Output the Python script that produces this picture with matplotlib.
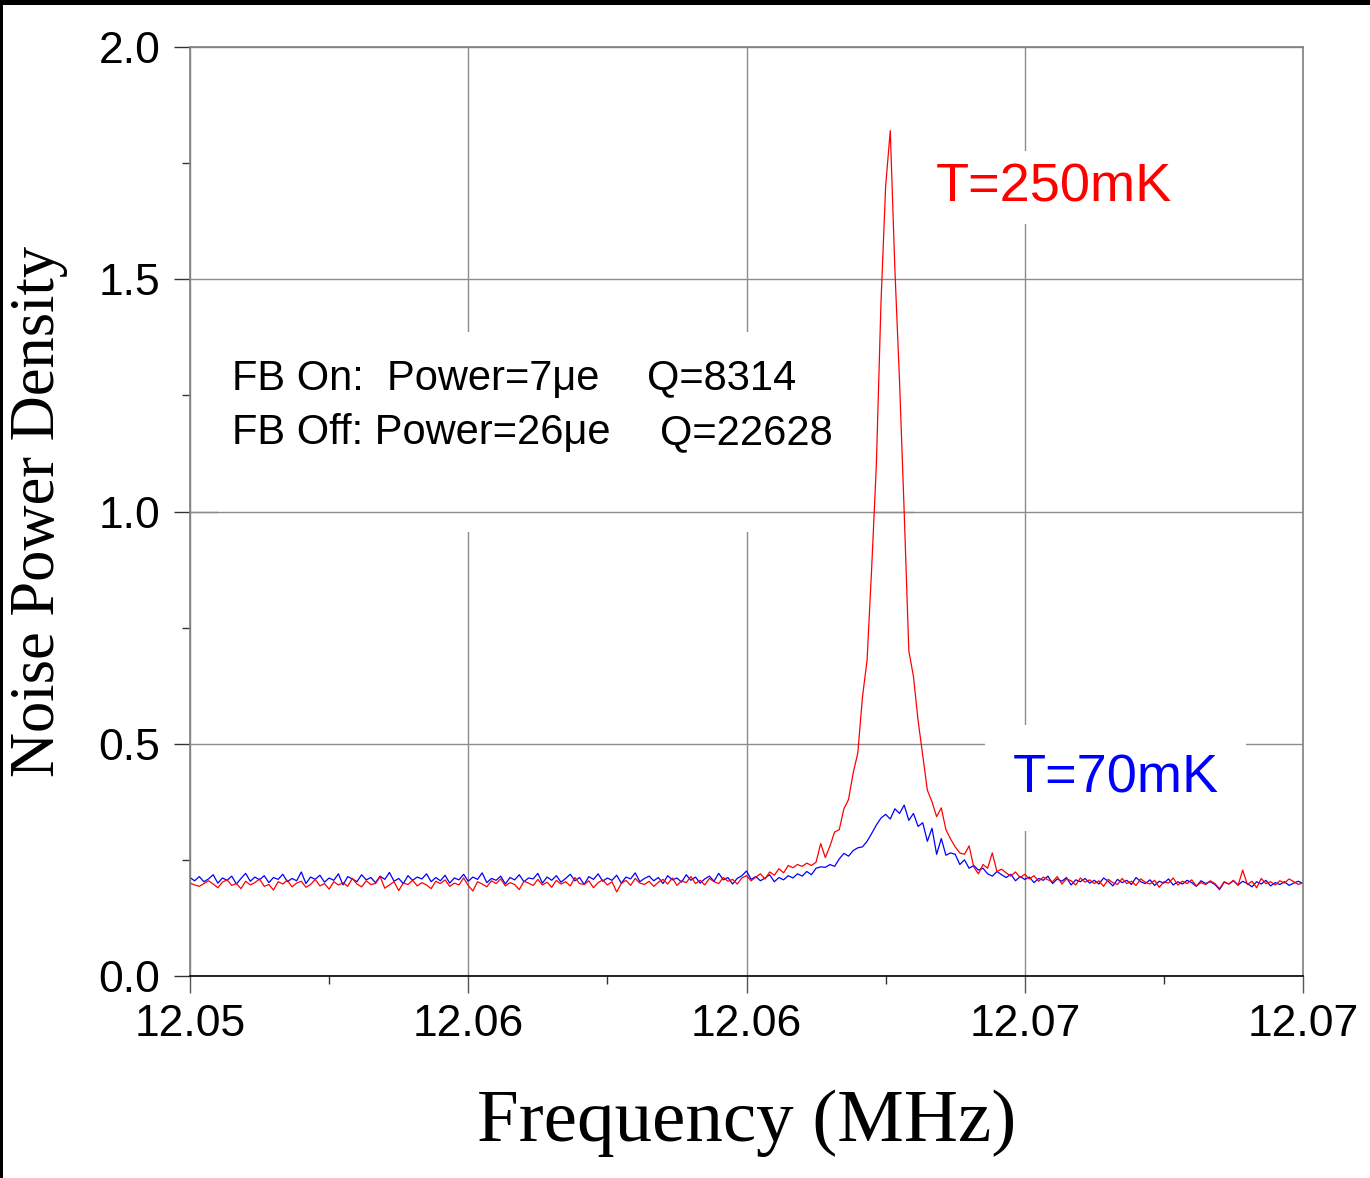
import numpy as np
import matplotlib.pyplot as plt
from matplotlib.patches import Rectangle

# frequency axis (MHz) and tick labels as printed on the chart
f_start = 12.054
f_stop = 12.070
xticks = [12.054, 12.058, 12.062, 12.066, 12.070]
xtick_labels = ['12.05', '12.06', '12.06', '12.07', '12.07']
yticks = [0.0, 0.5, 1.0, 1.5, 2.0]
ytick_labels = ['0.0', '0.5', '1.0', '1.5', '2.0']

# T=250mK trace (red)
red_250mK = [
    0.200, 0.196, 0.193, 0.199, 0.205, 0.198, 0.190, 0.202, 0.207, 0.195,
    0.199, 0.188, 0.204, 0.196, 0.201, 0.209, 0.193, 0.197, 0.185, 0.203,
    0.198, 0.206, 0.192, 0.200, 0.204, 0.191, 0.197, 0.208, 0.194, 0.199,
    0.187, 0.203, 0.196, 0.201, 0.193, 0.210, 0.198, 0.192, 0.205, 0.197,
    0.199, 0.214, 0.189, 0.196, 0.203, 0.184, 0.200, 0.197, 0.206, 0.194,
    0.201, 0.196, 0.188, 0.204, 0.199, 0.207, 0.193, 0.200, 0.196, 0.211,
    0.195, 0.183, 0.203, 0.198, 0.192, 0.205, 0.199, 0.209, 0.194, 0.201,
    0.197, 0.186, 0.204, 0.200, 0.195, 0.208, 0.196, 0.202, 0.191, 0.206,
    0.198, 0.203, 0.194, 0.212, 0.199, 0.197, 0.205, 0.190, 0.201, 0.207,
    0.196, 0.203, 0.181, 0.199, 0.206, 0.195, 0.210, 0.200, 0.197, 0.204,
    0.193, 0.202, 0.208, 0.198, 0.211, 0.195, 0.205, 0.201, 0.214, 0.199,
    0.206, 0.196, 0.210, 0.203, 0.199, 0.212, 0.204, 0.208, 0.198, 0.211,
    0.216, 0.205, 0.213, 0.220, 0.209, 0.224, 0.217, 0.231, 0.222, 0.238,
    0.233, 0.240, 0.236, 0.243, 0.238,
    0.245, 0.285, 0.255, 0.280, 0.310, 0.315, 0.360, 0.380, 0.437, 0.480,
    0.600, 0.680, 0.880, 1.100, 1.450, 1.700, 1.820, 1.520, 1.280, 1.000,
    0.700, 0.645, 0.550, 0.475, 0.400, 0.375, 0.343, 0.362, 0.315, 0.295,
    0.278, 0.265, 0.262, 0.280, 0.235, 0.220, 0.240, 0.232, 0.265, 0.225,
    0.230,
    0.222, 0.215, 0.224, 0.212, 0.219, 0.209, 0.216, 0.204, 0.213, 0.207,
    0.203, 0.214, 0.198, 0.209, 0.205, 0.196, 0.211, 0.202, 0.207, 0.199,
    0.205, 0.193, 0.208, 0.201, 0.197, 0.210, 0.199, 0.204, 0.195, 0.209,
    0.202, 0.198, 0.206, 0.191, 0.203, 0.200, 0.211, 0.196, 0.204, 0.199,
    0.207, 0.194, 0.201, 0.197, 0.205, 0.199, 0.188, 0.203, 0.198, 0.206,
    0.195, 0.228, 0.197, 0.204, 0.190, 0.210, 0.199, 0.203, 0.196, 0.205,
    0.200, 0.209, 0.203, 0.197, 0.201,
]

# T=70mK trace (blue)
blue_70mK = [
    0.212, 0.205, 0.214, 0.203, 0.209, 0.218, 0.200, 0.211, 0.206, 0.215,
    0.198, 0.210, 0.221, 0.204, 0.213, 0.207, 0.216, 0.201, 0.212, 0.208,
    0.219, 0.203, 0.210, 0.205, 0.224, 0.199, 0.213, 0.208, 0.217, 0.202,
    0.211, 0.206, 0.220, 0.196, 0.214, 0.209, 0.203, 0.218, 0.207, 0.212,
    0.201, 0.215, 0.208, 0.223, 0.204, 0.210, 0.199, 0.216, 0.206, 0.213,
    0.209, 0.220, 0.203, 0.212, 0.205, 0.217, 0.200, 0.211, 0.207, 0.219,
    0.204, 0.213, 0.208, 0.222, 0.201, 0.210, 0.206, 0.215, 0.198, 0.212,
    0.207, 0.218, 0.203, 0.211, 0.209, 0.221, 0.200, 0.213, 0.206, 0.216,
    0.202, 0.210, 0.219, 0.205, 0.212, 0.197, 0.214, 0.208, 0.220, 0.204,
    0.211, 0.206, 0.217, 0.200, 0.213, 0.209, 0.222, 0.203, 0.210, 0.215,
    0.205, 0.212, 0.199, 0.216, 0.207, 0.211, 0.202, 0.218, 0.206, 0.213,
    0.200, 0.209, 0.215, 0.204, 0.221, 0.207, 0.212, 0.198, 0.210, 0.216,
    0.226, 0.208, 0.214, 0.205, 0.211, 0.218, 0.203, 0.212, 0.207, 0.216,
    0.211, 0.220, 0.215, 0.225, 0.218, 0.232, 0.235, 0.234, 0.240, 0.236,
    0.252, 0.264, 0.258, 0.270, 0.276, 0.278, 0.290, 0.307, 0.325, 0.340,
    0.348, 0.338, 0.360, 0.350, 0.368, 0.335, 0.350, 0.322, 0.330, 0.290,
    0.318, 0.262, 0.296, 0.260, 0.265, 0.262, 0.240, 0.250, 0.232, 0.238,
    0.228, 0.232, 0.220, 0.215, 0.225, 0.218,
    0.212, 0.219, 0.205, 0.214, 0.208, 0.213, 0.201, 0.210, 0.206, 0.215,
    0.199, 0.209, 0.204, 0.212, 0.196, 0.207, 0.203, 0.210, 0.200, 0.206,
    0.198, 0.211, 0.204, 0.194, 0.208, 0.201, 0.206, 0.197, 0.212, 0.203,
    0.199, 0.207, 0.195, 0.204, 0.200, 0.209, 0.196, 0.203, 0.198, 0.206,
    0.201, 0.193, 0.205, 0.199, 0.203, 0.197, 0.186, 0.202, 0.198, 0.205,
    0.196, 0.204, 0.199, 0.192, 0.203, 0.198, 0.206, 0.194, 0.201, 0.197,
    0.203, 0.195, 0.200, 0.204, 0.199,
]

freq_red = np.linspace(f_start, f_stop, len(red_250mK))
freq_blue = np.linspace(f_start, f_stop, len(blue_70mK))

serif = 'Liberation Serif'
sans = 'Liberation Sans'

fig = plt.figure(figsize=(13.7, 11.78), dpi=100)
ax = fig.add_axes([190/1370, 1 - 976/1178, 1113/1370, 929/1178])

# grid lines, drawn low so the white text boxes can cover them
ax.set_axisbelow(True)
ax.grid(True, which='major', color='#8c8c8c', lw=1.0)

ax.plot(freq_blue, blue_70mK, color='#0000ff', lw=0.9, zorder=2)
ax.plot(freq_red, red_250mK, color='#ff0000', lw=0.9, zorder=2.1)

ax.set_xlim(f_start, f_stop)
ax.set_ylim(0, 2.0)
ax.set_xticks(xticks)
ax.set_xticklabels(xtick_labels)
ax.set_xticks([12.056, 12.060, 12.064, 12.068], minor=True)
ax.set_yticks(yticks)
ax.set_yticklabels(ytick_labels)
ax.set_yticks([0.25, 0.75, 1.25, 1.75], minor=True)

ax.tick_params(axis='x', which='major', length=12, width=1, color='#555555',
               labelsize=32, pad=8)
ax.tick_params(axis='x', which='minor', length=6, width=1, color='#333333')
ax.tick_params(axis='y', which='major', length=11.5, width=1, color='#333333',
               labelsize=32, pad=10)
ax.tick_params(axis='y', which='minor', length=6, width=1, color='#333333')
for lab in ax.get_xticklabels() + ax.get_yticklabels():
    lab.set_fontfamily(sans)

for side in ['left', 'top', 'right']:
    ax.spines[side].set_color('#808080')
    ax.spines[side].set_linewidth(1.2)
ax.spines['bottom'].set_color('black')
ax.spines['bottom'].set_linewidth(1.2)

ax.set_xlabel('Frequency (MHz)', family=serif, fontsize=54, labelpad=32)
ax.set_ylabel('Noise Power Density', family=serif, fontsize=45, labelpad=22)

box = dict(facecolor='white', edgecolor='none', pad=8)
ax.text(0.670, 0.849, 'T=250mK', transform=ax.transAxes, color='#ff0000',
        family=sans, fontsize=39, va='center', ha='left', zorder=3,
        bbox=box)
ax.text(0.739, 0.213, 'T=70mK', transform=ax.transAxes, color='#0000ff',
        family=sans, fontsize=39, va='center', ha='left', zorder=3,
        bbox=dict(facecolor='white', edgecolor='none', pad=20))

# feedback annotation block, white box hides the vertical grid lines
ax.add_patch(Rectangle((0.025, 0.478), 0.59, 0.215, transform=ax.transAxes,
                       facecolor='white', edgecolor='none', zorder=1.8))
ax.axhline(1.0, xmin=0.0, xmax=0.65, color='#8c8c8c', lw=1.0, zorder=1.9)
ax.text(0.038, 0.643, 'FB On:  Power=7\u03bce', transform=ax.transAxes,
        family=sans, fontsize=30, va='center', ha='left', zorder=3)
ax.text(0.411, 0.643, 'Q=8314', transform=ax.transAxes,
        family=sans, fontsize=30, va='center', ha='left', zorder=3)
ax.text(0.038, 0.584, 'FB Off: Power=26\u03bce', transform=ax.transAxes,
        family=sans, fontsize=30, va='center', ha='left', zorder=3)
ax.text(0.422, 0.584, 'Q=22628', transform=ax.transAxes,
        family=sans, fontsize=30, va='center', ha='left', zorder=3)

# black frame pieces at the top and left edge of the image
fig.patches.append(Rectangle((0, 1 - 5/1178), 1, 5/1178, transform=fig.transFigure,
                             facecolor='black', edgecolor='none'))
fig.patches.append(Rectangle((0, 0), 2.5/1370, 1, transform=fig.transFigure,
                             facecolor='black', edgecolor='none'))

fig.savefig('out.png', dpi=100)
